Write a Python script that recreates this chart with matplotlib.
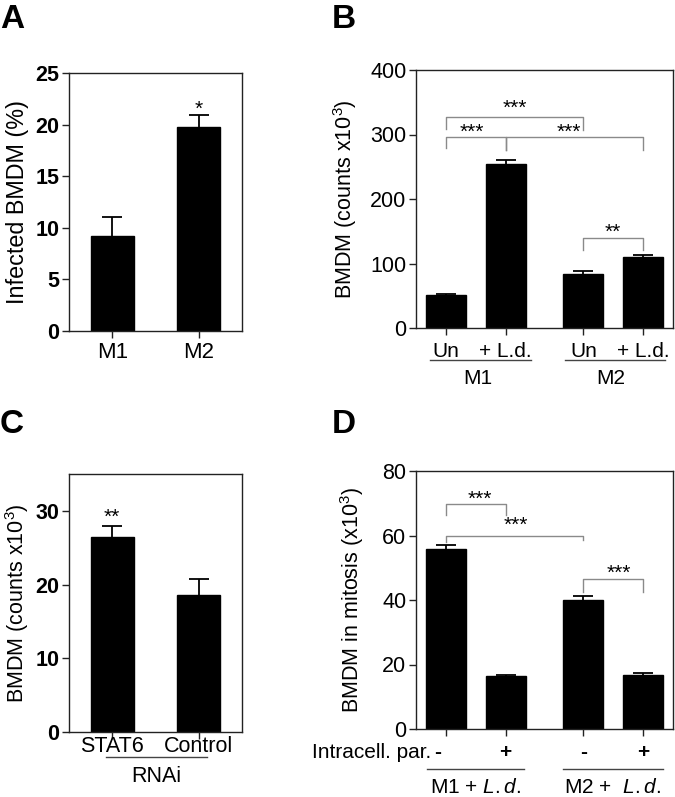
import numpy as np
import matplotlib
matplotlib.use('Agg')
import matplotlib.pyplot as plt

plt.rcParams['font.family'] = ['Liberation Sans', 'DejaVu Sans']
plt.rcParams['mathtext.fontset'] = 'custom'
plt.rcParams['mathtext.rm'] = 'Liberation Sans'
plt.rcParams['mathtext.it'] = 'Liberation Sans:italic'
plt.rcParams['mathtext.default'] = 'regular'

# --- data ---
a_labels = ['M1', 'M2']
a_means = [9.2, 19.8]
a_err = [1.8, 1.1]

b_groups = ['M1', 'M2']
b_sub = ['Un', '+ L.d.', 'Un', '+ L.d.']
b_means = [51, 255, 83, 110]
b_err = [2, 6, 5, 3.5]

c_labels = ['STAT6', 'Control']
c_means = [26.4, 18.55]
c_err = [1.6, 2.25]

d_signs = ['-', '+', '-', '+']
d_means = [55.7, 16.3, 40.0, 16.8]
d_err = [1.4, 0.4, 1.3, 0.7]

W, H = 675, 797
fig = plt.figure(figsize=(W / 100, H / 100), dpi=100)

SPINE = '#222222'
BRK = '#8a8a8a'
TICK_FS = 15.5
LAB_FS = 15.5


def make_ax(x0, y0, x1, y1):
    ax = fig.add_axes([x0 / W, 1 - y1 / H, (x1 - x0) / W, (y1 - y0) / H])
    for s in ax.spines.values():
        s.set_color(SPINE)
        s.set_linewidth(1.0)
    ax.tick_params(direction='out', length=5, width=1, color=SPINE,
                   labelsize=TICK_FS, pad=2, top=False, right=False)
    return ax


def bars(ax, pos, means, err, width):
    ax.bar(pos, means, width=width, color='black', edgecolor='black', zorder=2)
    _, caps, _ = ax.errorbar(pos, means, yerr=[np.zeros(len(err)), err],
                             fmt='none', ecolor='black', elinewidth=1.3,
                             capsize=7.5, capthick=1.3, zorder=3)
    # keep only the upper cap
    for c in caps:
        if np.allclose(c.get_ydata(), means):
            c.set_visible(False)
    ax.set_xticks(pos)
    ax.set_xticklabels([])


def bracket(ax, x0, x1, y, d0, d1):
    ax.plot([x0, x0, x1, x1], [d0, y, y, d1], color=BRK, lw=1.0, zorder=4,
            clip_on=False)


def stars(ax, x, y, s):
    ax.text(x, y, s, ha='center', va='center', fontsize=15, zorder=5)


# ---------- A ----------
axA = make_ax(69, 73, 242, 331)
posA = np.arange(2)
bars(axA, posA, a_means, a_err, 0.5)
axA.set_xlim(-0.5, 1.5)
axA.set_ylim(0, 25)
axA.set_yticks([0, 5, 10, 15, 20, 25])
for t in axA.get_yticklabels():
    t.set_fontweight('bold')
for p, lab in zip(posA, a_labels):
    axA.text(p, -0.085, lab, transform=axA.get_xaxis_transform(),
             ha='center', va='center', fontsize=16)
axA.text(-0.30, 0.5, 'Infected BMDM (%)', transform=axA.transAxes,
         rotation=90, ha='center', va='center', fontsize=16.8)
stars(axA, 1, 21.5, '*')

# ---------- B ----------
axB = make_ax(416, 70, 673, 328)
posB = np.array([0, 1, 2.3, 3.3])
bars(axB, posB, b_means, b_err, 0.67)
axB.set_xlim(-0.5, 3.8)
axB.set_ylim(0, 400)
axB.set_yticks([0, 100, 200, 300, 400])
trB = axB.get_xaxis_transform()
for p, lab in zip(posB, b_sub):
    axB.text(p, -0.093, lab, transform=trB, ha='center', va='center', fontsize=15)
for (x0, x1), g, xm in zip([(-0.26, 1.43), (1.99, 3.66)], b_groups, [0.54, 2.76]):
    axB.plot([x0, x1], [-0.124, -0.124], transform=trB, color='#444444',
             lw=1.0, clip_on=False)
    axB.text(xm, -0.194, g, transform=trB, ha='center', va='center', fontsize=15)
axB.text(-0.275, 0.5, r'BMDM (counts x10$^{3}$)', transform=axB.transAxes,
         rotation=90, ha='center', va='center', fontsize=LAB_FS)
bracket(axB, 0, 2.3, 327.6, 308, 307)
stars(axB, 1.15, 340, '***')
bracket(axB, 0, 1, 296.7, 279, 276)
bracket(axB, 1, 3.3, 296.7, 276, 276)
stars(axB, 0.44, 304, '***')
stars(axB, 2.05, 304, '***')
bracket(axB, 2.3, 3.3, 140, 121, 121)
stars(axB, 2.8, 148, '**')

# ---------- C ----------
axC = make_ax(69, 474, 242, 732)
posC = np.arange(2)
bars(axC, posC, c_means, c_err, 0.5)
axC.set_xlim(-0.5, 1.5)
axC.set_ylim(0, 35)
axC.set_yticks([0, 10, 20, 30])
for t in axC.get_yticklabels():
    t.set_fontweight('bold')
trC = axC.get_xaxis_transform()
for p, lab in zip(posC, c_labels):
    axC.text(p, -0.058, lab, transform=trC, ha='center', va='center', fontsize=15.5)
axC.plot([-0.07, 1.09], [-0.097, -0.097], transform=trC, color='#444444',
         lw=1.0, clip_on=False)
axC.text(0.51, -0.174, 'RNAi', transform=trC, ha='center', va='center', fontsize=15.5)
axC.text(-0.30, 0.5, r'BMDM (counts x10$^{3}$)', transform=axC.transAxes,
         rotation=90, ha='center', va='center', fontsize=LAB_FS)
stars(axC, 0, 29.1, '**')

# ---------- D ----------
axD = make_ax(416, 471, 673, 729)
posD = np.array([0, 1, 2.3, 3.3])
bars(axD, posD, d_means, d_err, 0.67)
axD.set_xlim(-0.5, 3.8)
axD.set_ylim(0, 80)
axD.set_yticks([0, 20, 40, 60, 80])
trD = axD.get_xaxis_transform()
axD.text(-0.24, -0.09, 'Intracell. par.', transform=trD, ha='right',
         va='center', fontsize=15)
sign_x = [-0.14, 1, 2.3, 3.3]
for x, s in zip(sign_x, d_signs):
    axD.text(x, -0.09, s, transform=trD, ha='center', va='center',
             fontsize=15, fontweight='bold')
for (x0, x1), g, xm in zip([(-0.32, 1.31), (1.96, 3.63)],
                           [r'M1 + $\mathit{L.d.}$', r'M2 +  $\mathit{L.d.}$'],
                           [0.49, 2.79]):
    axD.plot([x0, x1], [-0.154, -0.154], transform=trD, color='#444444',
             lw=1.0, clip_on=False)
    axD.text(xm, -0.226, g, transform=trD, ha='center', va='center', fontsize=15)
axD.text(-0.249, 0.5, r'BMDM in mitosis (x10$^{3}$)', transform=axD.transAxes,
         rotation=90, ha='center', va='center', fontsize=LAB_FS)
bracket(axD, 0, 1, 69.7, 66.3, 66.3)
stars(axD, 0.56, 71.2, '***')
bracket(axD, 0, 2.3, 59.8, 58, 58.5)
stars(axD, 1.17, 63.2, '***')
bracket(axD, 2.3, 3.3, 46.5, 42.6, 42.6)
stars(axD, 2.9, 48.2, '***')

# panel letters
for lab, x, y in [('A', 0, 28), ('B', 332, 28), ('C', 0, 433), ('D', 332, 433)]:
    fig.text(x / W, 1 - y / H, lab, fontsize=24, fontweight='bold',
             ha='left', va='baseline')

fig.savefig('out.png', dpi=100)
